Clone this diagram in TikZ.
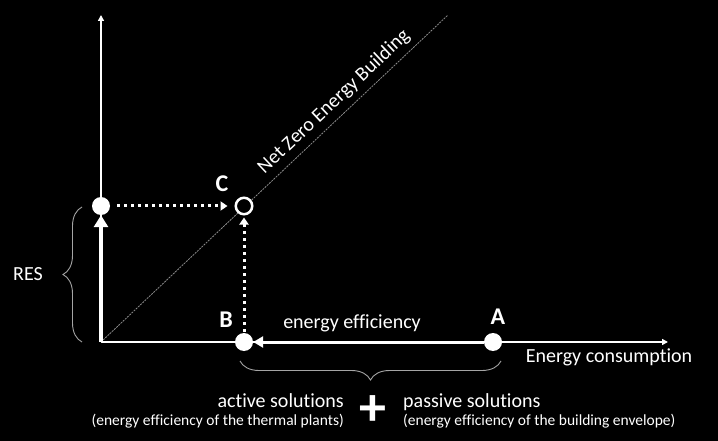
\documentclass[tikz,border=0pt]{standalone}
\usepackage{fontspec}
\setmainfont{Carlito}[Ligatures=NoCommon]
\usetikzlibrary{positioning, arrows.meta, decorations.pathreplacing}
\definecolor{NZgrey}{RGB}{140, 140, 140}
\definecolor{NZbrace}{RGB}{165, 165, 165}

\begin{document}
\begin{tikzpicture}[x=1pt, y=-1pt,
		dot/.style={shape=circle, fill=white, inner sep=0pt, minimum size=18pt},
		txt/.style={text=white, font=\fontsize{20}{24}\selectfont, anchor=base, inner sep=0pt},
		subtxt/.style={text=white, font=\fontsize{15.5}{18}\selectfont, anchor=base, inner sep=0pt},
		pointtxt/.style={text=white, font=\fontsize{24}{28}\selectfont\bfseries, anchor=base, inner sep=0pt},
		axisline/.style={white, line width=1.8pt, -{Triangle[width=6pt, length=6pt]}},
		dotline/.style={white, line width=3pt, dash pattern=on 3pt off 4pt, -{Triangle[width=9pt, length=7pt]}},
		bracestyle/.style={NZbrace, line width=0.9pt, decorate, decoration={brace, amplitude=19pt}}]
		
		% background
		\useasboundingbox (0,0) rectangle (718,441);
		\fill[black] (0,0) rectangle (718,441);
		
		% axes
		\coordinate (O) at (101,342);
		\coordinate (xend) at (668,342);
		\coordinate (yend) at (101,15);
		\coordinate (nzeb) at (448,15);
		\draw[axisline] (O) -- (xend);
		\draw[axisline] (O) -- (yend);
		\draw[NZgrey, line width=0.8pt, dash pattern=on 2pt off 1pt] (O) -- (nzeb);
		\node[txt, rotate=43.3, anchor=center] (nzlbl) at (334,102) {Net Zero Energy Building};
		
		% points
		\node[dot] (A) at (493,342) {};
		\node[dot] (B) at (244,342) {};
		\node[dot] (R) at (101,206) {};
		\node[shape=circle, draw=white, line width=2.5pt, fill=black, inner sep=0pt, minimum size=16.5pt] (C) at (244,206) {};
		\path[white, line width=3pt, -{Triangle[width=11pt, length=10pt]}] (A) edge (B);
		\path[white, line width=4pt, -{Triangle[width=14pt, length=12pt]}] (O) edge (R);
		\path[dotline, shorten <=7pt, shorten >=7pt] (R) edge (C);
		\path[dotline, shorten <=1pt, shorten >=2pt] (B) edge (C);
		\node[pointtxt] (Albl) at (498,324) {A};
		\node[pointtxt] (Blbl) at (226,327) {B};
		\node[pointtxt] (Clbl) at (222,192) {C};
		\node[txt] (efflbl) at (352,328) {energy efficiency};
		\node[txt] (conslbl) at (609,362) {Energy consumption};
		
		% RES
		\draw[bracestyle] (82,342) -- (82,207);
		\node[txt] (reslbl) at (28,280) {RES};
		
		% solutions
		\draw[bracestyle] (501,361) -- (240,361);
		\node[txt, anchor=base east] (active) at (344,407) {active solutions};
		\node[subtxt, anchor=base east] (activesub) at (344,425) {(energy efficiency of the thermal plants)};
		\node[text=white, font=\fontsize{54}{54}\selectfont\bfseries] (plus) at (373,411) {+};
		\node[txt, anchor=base west] (passive) at (403,407) {passive solutions};
		\node[subtxt, anchor=base west] (passivesub) at (403,425) {(energy efficiency of the building envelope)};
	\end{tikzpicture}
\end{document}
